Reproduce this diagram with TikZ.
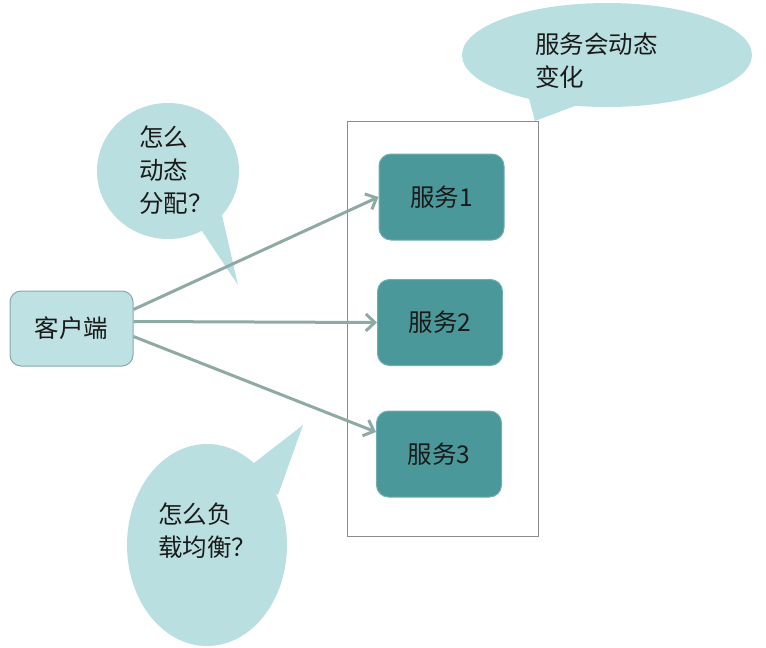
\documentclass[tikz,border=0pt]{standalone}
\usepackage{fontspec}
\setmainfont{Noto Sans CJK SC}
\usetikzlibrary{arrows.meta,calc}
\definecolor{bubble}{HTML}{BADFE0}
\definecolor{clientfill}{HTML}{BEE2E4}
\definecolor{clientline}{HTML}{86A9AA}
\definecolor{svcfill}{HTML}{4A9899}
\definecolor{svcline}{HTML}{72AEAF}
\definecolor{arrowc}{HTML}{8FA9A4}
\definecolor{boxline}{HTML}{8C8C8C}
\definecolor{txt}{HTML}{1A1A1A}
\tikzset{
  txtfont/.style={font=\fontsize{24.5}{33}\selectfont, text=txt},
  clientbox/.style={draw=clientline, line width=1pt, fill=clientfill, rounded corners=11pt,
    minimum width=123pt, minimum height=75pt, txtfont},
  svcbox/.style={draw=svcline, line width=1pt, fill=svcfill, rounded corners=12pt,
    minimum width=125pt, minimum height=86pt, txtfont},
  containerbox/.style={draw=boxline, line width=0.8pt, minimum width=191pt, minimum height=415pt},
  conn/.style={draw=arrowc, line width=3pt, -{Straight Barb[length=9pt,width=17pt]}},
  bubbletext/.style={txtfont, align=left, anchor=north west, inner sep=0pt},
}
\begin{document}
\begin{tikzpicture}[x=1pt,y=-1pt]
\useasboundingbox (0,0) rectangle (766,648);
% speech bubbles
\fill[bubble] (607,55) ellipse [x radius=145, y radius=52];
\fill[bubble] (528,95) -- (535,121) -- (580,104) -- cycle;
\fill[bubble] (168,171) ellipse [x radius=71, y radius=68];
\fill[bubble] (200,228) -- (238,285) -- (222,215) -- cycle;
\fill[bubble] (207,545) ellipse [x radius=80, y radius=101];
\fill[bubble] (245,470) -- (303,425) -- (278,495) -- cycle;
\node[bubbletext] (t3) at (535,33) {服务会动态\\变化};
\node[bubbletext] (t1) at (139,126) {怎么\\动态\\分配？};
\node[bubbletext] (t2) at (158,503) {怎么负\\载均衡？};
% container and nodes
\node[containerbox] (box) at (442.5,328.5) {};
\node[clientbox] (c) at (71.5,328.5) {客户端};
\node[svcbox] (s1) at (441.5,197) {服务1};
\node[svcbox] (s2) at (440,322.5) {服务2};
\node[svcbox] (s3) at (439,454) {服务3};
% connectors
\coordinate (a1) at ($(c.east)+(0,-19)$);
\coordinate (a2) at ($(c.east)+(0,-7)$);
\coordinate (a3) at ($(c.east)+(0,8)$);
\coordinate (e3) at ($(s3.west)+(0,-22)$);
\draw[conn] (a1) -- (s1.west);
\draw[conn] (a2) -- (s2.west);
\draw[conn] (a3) -- (e3);
\end{tikzpicture}
\end{document}
